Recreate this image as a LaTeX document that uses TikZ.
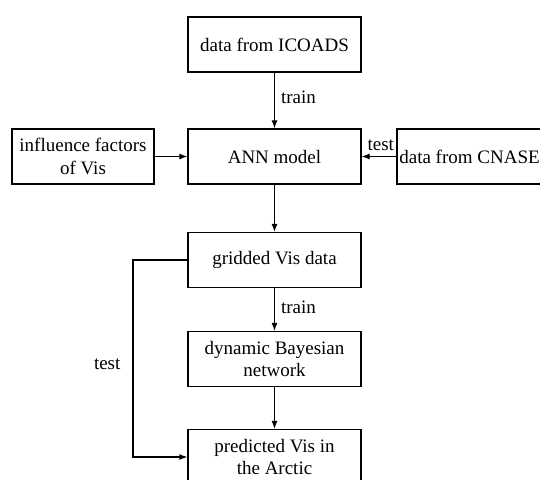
\documentclass[tikz,border=0pt]{standalone}
\usepackage{fontspec}
\setmainfont{Liberation Serif}
\usetikzlibrary{arrows.meta}
\begin{document}
\begin{tikzpicture}[x=1pt,y=-1pt,
  font=\fontsize{19}{22.5}\selectfont,
  box/.style={draw,line width=1.2pt,rectangle,inner sep=0pt,align=center,
    minimum width=173pt,minimum height=55pt},
  conn/.style={line width=1.2pt,-{Latex[length=8pt,width=6pt]}},
  lbl/.style={inner sep=0pt}]
\useasboundingbox (0,0) rectangle (540,479);
\node[box] (icoads) at (274.5,44.5) {data from ICOADS};
\node[box] (ann) at (274.5,156.5) {ANN model};
\node[box,minimum width=142pt] (infl) at (83,156.5) {influence factors\\of Vis};
\node[box,minimum width=150pt] (cnase) at (472,156.5) {data from CNASE\hspace*{5pt}};
\node[box] (grid) at (274.5,260) {gridded Vis data};
\node[box] (dbn) at (274.5,359) {dynamic Bayesian\\network};
\node[box] (pred) at (274.5,457) {predicted Vis in\\the Arctic};
\draw[conn] (icoads) -- node[lbl,right=6pt,pos=0.45] (t1) {train} (ann);
\draw[conn] (infl) -- (ann);
\draw[conn] (cnase) -- node[lbl,above=5pt,pos=0.45] (t2) {test} (ann);
\draw[conn] (ann) -- (grid);
\draw[conn] (grid) -- node[lbl,right=6pt,pos=0.45] (t3) {train} (dbn);
\draw[conn] (dbn) -- (pred);
\coordinate (c1) at (133,260);
\coordinate (c2) at (133,457);
\draw[conn] (grid.west) -- (c1) -- node[lbl,left=12pt,pos=0.53] (t4) {test} (c2) -- (pred.west);
\end{tikzpicture}
\end{document}
